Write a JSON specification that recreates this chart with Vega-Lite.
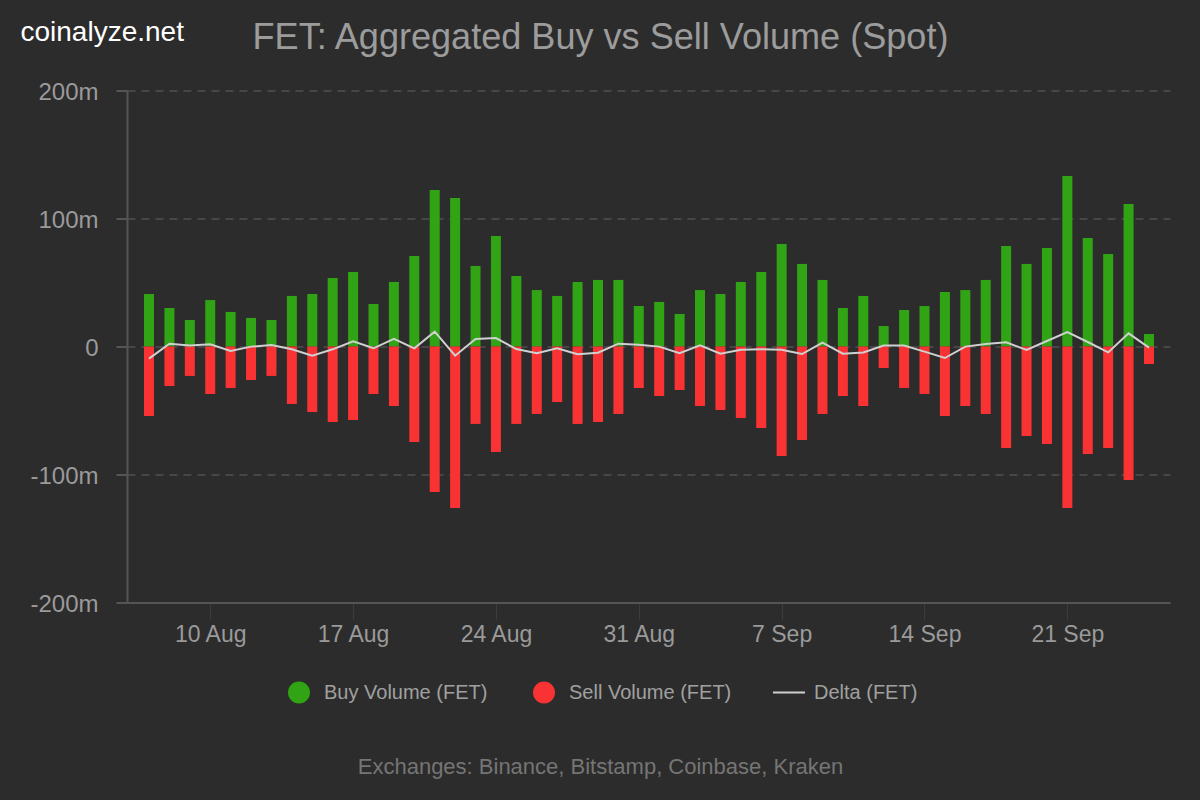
{
  "$schema": "https://vega.github.io/schema/vega-lite/v6.json",
  "width": 1043,
  "height": 512,
  "autosize": {"type": "none"},
  "padding": {"left": 127, "top": 90.5, "right": 30, "bottom": 197.5},
  "background": "#2c2c2c",
  "config": {"font": "Liberation Sans", "view": {"stroke": null}},
  "title": {
    "text": "FET: Aggregated Buy vs Sell Volume (Spot)",
    "anchor": "middle",
    "dx": -48,
    "offset": -38,
    "fontSize": 36.1,
    "fontWeight": "normal",
    "color": "#9c9c9c"
  },
  "datasets": {
    "volume": [
      {"date": "2023-08-07", "buy": 41.0, "sell": -54.3, "delta": -9.5},
      {"date": "2023-08-08", "buy": 30.1, "sell": -30.9, "delta": 2.2},
      {"date": "2023-08-09", "buy": 20.7, "sell": -23.0, "delta": 0.7},
      {"date": "2023-08-10", "buy": 36.3, "sell": -37.1, "delta": 1.7},
      {"date": "2023-08-11", "buy": 27.0, "sell": -32.4, "delta": -3.5},
      {"date": "2023-08-12", "buy": 22.3, "sell": -26.2, "delta": -0.1},
      {"date": "2023-08-13", "buy": 20.7, "sell": -23.0, "delta": 1.2},
      {"date": "2023-08-14", "buy": 39.5, "sell": -44.9, "delta": -2.2},
      {"date": "2023-08-15", "buy": 41.0, "sell": -51.2, "delta": -7.2},
      {"date": "2023-08-16", "buy": 53.5, "sell": -59.0, "delta": -2.2},
      {"date": "2023-08-17", "buy": 58.2, "sell": -57.4, "delta": 4.0},
      {"date": "2023-08-18", "buy": 33.2, "sell": -37.1, "delta": -1.4},
      {"date": "2023-08-19", "buy": 50.4, "sell": -46.5, "delta": 5.9},
      {"date": "2023-08-20", "buy": 70.7, "sell": -74.6, "delta": -1.4},
      {"date": "2023-08-21", "buy": 122.3, "sell": -113.7, "delta": 11.6},
      {"date": "2023-08-22", "buy": 116.0, "sell": -126.2, "delta": -7.2},
      {"date": "2023-08-23", "buy": 62.9, "sell": -60.5, "delta": 5.9},
      {"date": "2023-08-24", "buy": 86.3, "sell": -82.4, "delta": 6.6},
      {"date": "2023-08-25", "buy": 55.1, "sell": -60.5, "delta": -2.0},
      {"date": "2023-08-26", "buy": 44.1, "sell": -52.7, "delta": -5.3},
      {"date": "2023-08-27", "buy": 39.5, "sell": -43.4, "delta": -1.4},
      {"date": "2023-08-28", "buy": 50.4, "sell": -60.5, "delta": -6.1},
      {"date": "2023-08-29", "buy": 52.0, "sell": -59.0, "delta": -4.8},
      {"date": "2023-08-30", "buy": 52.0, "sell": -52.7, "delta": 2.2},
      {"date": "2023-08-31", "buy": 31.6, "sell": -32.4, "delta": 1.4},
      {"date": "2023-09-01", "buy": 34.8, "sell": -38.7, "delta": -0.1},
      {"date": "2023-09-02", "buy": 25.4, "sell": -34.0, "delta": -5.3},
      {"date": "2023-09-03", "buy": 44.1, "sell": -46.5, "delta": 0.9},
      {"date": "2023-09-04", "buy": 41.0, "sell": -49.6, "delta": -5.6},
      {"date": "2023-09-05", "buy": 50.4, "sell": -55.9, "delta": -2.5},
      {"date": "2023-09-06", "buy": 58.2, "sell": -63.7, "delta": -2.2},
      {"date": "2023-09-07", "buy": 80.1, "sell": -85.5, "delta": -2.5},
      {"date": "2023-09-08", "buy": 64.5, "sell": -73.0, "delta": -5.9},
      {"date": "2023-09-09", "buy": 52.0, "sell": -52.7, "delta": 3.0},
      {"date": "2023-09-10", "buy": 30.1, "sell": -38.7, "delta": -5.6},
      {"date": "2023-09-11", "buy": 39.5, "sell": -46.5, "delta": -4.6},
      {"date": "2023-09-12", "buy": 16.0, "sell": -16.8, "delta": 0.7},
      {"date": "2023-09-13", "buy": 28.5, "sell": -32.4, "delta": 0.7},
      {"date": "2023-09-14", "buy": 31.6, "sell": -37.1, "delta": -4.0},
      {"date": "2023-09-15", "buy": 42.6, "sell": -54.3, "delta": -9.0},
      {"date": "2023-09-16", "buy": 44.1, "sell": -46.5, "delta": -0.1},
      {"date": "2023-09-17", "buy": 52.0, "sell": -52.7, "delta": 2.0},
      {"date": "2023-09-18", "buy": 78.5, "sell": -79.3, "delta": 3.3},
      {"date": "2023-09-19", "buy": 64.5, "sell": -69.9, "delta": -2.7},
      {"date": "2023-09-20", "buy": 77.0, "sell": -76.2, "delta": 4.3},
      {"date": "2023-09-21", "buy": 133.2, "sell": -126.2, "delta": 11.3},
      {"date": "2023-09-22", "buy": 84.8, "sell": -84.0, "delta": 3.5},
      {"date": "2023-09-23", "buy": 72.3, "sell": -79.3, "delta": -4.6},
      {"date": "2023-09-24", "buy": 111.3, "sell": -104.3, "delta": 10.3},
      {"date": "2023-09-25", "buy": 9.8, "sell": -13.7, "delta": -0.9}
    ]
  },
  "data": {"name": "volume"},
  "transform": [
    {"fold": ["buy", "sell", "delta"], "as": ["key", "value"]},
    {"lookup": "key", "from": {"data": {"values": [
      {"key": "buy", "series": "Buy Volume (FET)"},
      {"key": "sell", "series": "Sell Volume (FET)"},
      {"key": "delta", "series": "Delta (FET)"}
    ]}, "key": "key", "fields": ["series"]}}
  ],
  "encoding": {
    "x": {
      "field": "date",
      "type": "temporal",
      "scale": {"type": "utc", "padding": 0, "domain": ["2023-08-05T22:07:00Z", "2023-09-26T00:43:00Z"]},
      "axis": {
        "title": "Exchanges: Binance, Bitstamp, Coinbase, Kraken",
        "titleX": 473,
        "titleY": 153.5,
        "titleAlign": "center",
        "titleFontSize": 22,
        "titleFontWeight": "normal",
        "titleColor": "#757575",
        "values": ["2023-08-10", "2023-08-17", "2023-08-24", "2023-08-31", "2023-09-07", "2023-09-14", "2023-09-21"],
        "format": "%-d %b",
        "grid": false,
        "labelFontSize": 23,
        "labelColor": "#9a9a9a",
        "labelPadding": 4,
        "labelFlush": false,
        "tickSize": 17,
        "tickColor": "#3d3d3d",
        "domainColor": "#555555",
        "domainWidth": 2
      }
    },
    "y": {
      "field": "value",
      "type": "quantitative",
      "scale": {"domain": [-200, 200], "nice": false},
      "axis": {
        "title": "coinalyze.net",
        "titleAngle": 0,
        "titleX": -107,
        "titleY": -50.5,
        "titleAlign": "left",
        "titleBaseline": "alphabetic",
        "titleFontSize": 28,
        "titleFontWeight": "normal",
        "titleColor": "#ffffff",
        "values": [-200, -100, 0, 100, 200],
        "labelExpr": "datum.value === 0 ? '0' : datum.value + 'm'",
        "labelFontSize": 24,
        "labelColor": "#9a9a9a",
        "labelPadding": 18,
        "labelOffset": 1.5,
        "tickSize": 11,
        "tickColor": "#555555",
        "tickWidth": 2,
        "domainColor": "#555555",
        "domainWidth": 2,
        "gridColor": "#4f4f4f",
        "gridWidth": 1.5,
        "gridDash": [8, 6]
      }
    },
    "color": {
      "field": "series",
      "type": "nominal",
      "scale": {
        "domain": ["Buy Volume (FET)", "Sell Volume (FET)", "Delta (FET)"],
        "range": ["#30a414", "#f93333", "#d0d0d0"]
      },
      "legend": {
        "title": null,
        "orient": "none",
        "legendX": 161,
        "legendY": 591,
        "direction": "horizontal",
        "columns": 3,
        "gridAlign": "all",
        "padding": 0,
        "columnPadding": 36,
        "symbolSize": 400,
        "symbolOffset": 0,
        "labelOffset": 14,
        "labelLimit": 300,
        "labelFontSize": 20,
        "labelColor": "#a0a0a0",
        "encode": {
          "symbols": {
            "update": {
              "shape": {"signal": "datum.value === 'Delta (FET)' ? 'M-1.6,-1M-1.6,0H1.6M-1.6,1' : 'circle'"},
              "fill": {"signal": "datum.value === 'Delta (FET)' ? 'transparent' : scale('color', datum.value)"},
              "stroke": {"signal": "datum.value === 'Delta (FET)' ? '#e0e0e0' : 'transparent'"},
              "strokeWidth": {"value": 2},
              "opacity": {"value": 1}
            }
          }
        }
      }
    }
  },
  "layer": [
    {
      "transform": [{"filter": "datum.key !== 'delta'"}],
      "mark": {"type": "bar", "width": 10}
    },
    {
      "transform": [{"filter": "datum.key === 'delta'"}],
      "mark": {"type": "line", "strokeWidth": 2, "interpolate": "linear"}
    }
  ]
}
